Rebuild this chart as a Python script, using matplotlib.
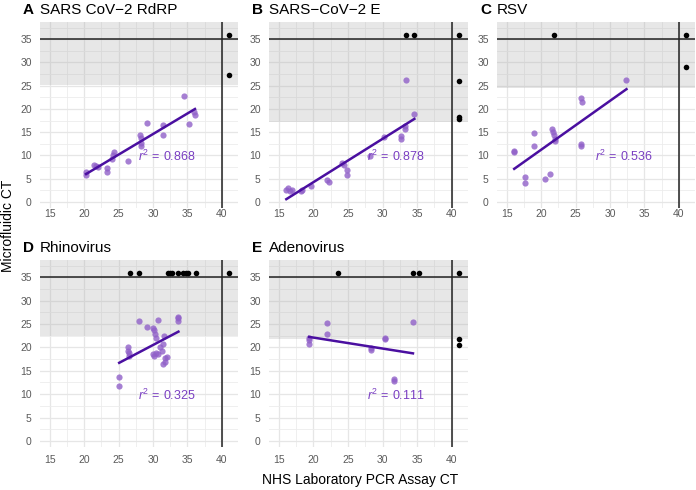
import numpy as np
import matplotlib
matplotlib.use('Agg')
import matplotlib.pyplot as plt

plt.rcParams['font.family'] = ['Liberation Sans', 'DejaVu Sans']
plt.rcParams['mathtext.fontset'] = 'custom'
plt.rcParams['mathtext.rm'] = 'Liberation Sans'
plt.rcParams['mathtext.it'] = 'Liberation Sans:italic'

# panel A - SARS CoV-2 RdRP
a_x = [20.3, 20.3, 21.4, 21.7, 22.0, 23.3, 23.3, 24.0, 24.2, 24.4, 26.4,
       28.1, 28.2, 28.3, 28.3, 29.1, 31.4, 31.4, 34.5, 35.2, 35.9, 36.1]
a_y = [6.5, 5.8, 7.9, 7.7, 7.5, 7.2, 6.5, 9.3, 10.0, 10.8, 8.8,
       14.4, 13.8, 12.6, 12.0, 16.9, 16.5, 14.4, 22.7, 16.7, 19.4, 18.7]
a_nd_x = [41, 41]
a_nd_y = [36, 27.2]

# panel B - SARS-CoV-2 E
b_x = [16.1, 16.4, 16.6, 16.9, 18.2, 18.4, 19.6, 22.0, 22.2, 24.2, 24.4, 24.9,
       24.9, 28.2, 30.2, 32.6, 32.7, 33.2, 33.3, 33.4, 34.6]
b_y = [2.5, 2.9, 2.4, 2.6, 2.4, 2.5, 3.4, 4.8, 4.3, 8.3, 7.9, 6.8,
       5.8, 9.8, 13.9, 13.6, 14.1, 15.6, 16.3, 26.2, 19.0]
b_nd_x = [33.4, 34.6, 41, 41, 41, 41]
b_nd_y = [36, 36, 36, 26, 18.3, 17.9]

# panel C - RSV
c_x = [16.1, 16.1, 17.6, 17.6, 18.9, 18.9, 20.5, 21.3, 21.6, 21.7, 21.9, 22.0,
       22.0, 25.8, 25.9, 25.8, 25.8, 32.4]
c_y = [10.7, 10.9, 5.4, 4.1, 14.9, 12.0, 5.0, 6.1, 15.6, 15.1, 14.4, 13.6,
       13.1, 22.4, 21.5, 12.1, 12.4, 26.2]
c_nd_x = [21.9, 41, 41]
c_nd_y = [36, 36, 29]

# panel D - Rhinovirus
d_x = [25.1, 25.1, 26.4, 26.4, 26.5, 26.5, 28.0, 29.2, 30.0, 30.1, 30.3, 30.4,
       30.7, 30.0, 30.2, 30.5, 30.7, 31.0, 31.3, 31.5, 31.6, 31.8, 31.7, 31.5,
       32.0, 33.7, 33.7, 33.7]
d_y = [13.6, 11.8, 20.0, 19.2, 18.7, 18.1, 25.7, 24.4, 24.2, 23.7, 22.8, 22.1,
       25.8, 18.5, 18.1, 18.9, 18.5, 20.0, 19.2, 20.7, 22.4, 17.8, 16.9, 16.4,
       18.0, 26.5, 25.7, 26.2]
d_nd_x = [26.6, 28.0, 32.2, 32.5, 32.7, 33.7, 34.3, 34.8, 35.1, 36.2, 41]
d_nd_y = [36, 36, 36, 36, 36, 36, 36, 36, 36, 36, 36]

# panel E - Adenovirus
e_x = [19.4, 19.4, 19.4, 22.0, 22.0, 28.3, 28.4, 30.3, 30.4, 31.6, 31.6, 34.4]
e_y = [22.1, 21.5, 20.8, 25.2, 22.8, 19.8, 19.5, 22.1, 21.7, 13.3, 12.9, 25.5]
e_nd_x = [23.6, 34.4, 35.3, 41, 41, 41]
e_nd_y = [36, 36, 36, 36, 21.7, 20.6]

letters = ['A', 'B', 'C', 'D', 'E']
titles = ['SARS CoV\u22122 RdRP', 'SARS\u2212CoV\u22122 E', 'RSV', 'Rhinovirus', 'Adenovirus']
r2_labels = ['0.868', '0.878', '0.536', '0.325', '0.111']
thresholds = [25.2, 17.3, 24.6, 22.5, 21.9]

panels = [(a_x, a_y, a_nd_x, a_nd_y), (b_x, b_y, b_nd_x, b_nd_y),
          (c_x, c_y, c_nd_x, c_nd_y), (d_x, d_y, d_nd_x, d_nd_y),
          (e_x, e_y, e_nd_x, e_nd_y)]

W, H = 696, 490
fig = plt.figure(figsize=(W / 100, H / 100), dpi=100)

# pixel boxes: left, top, width, height
boxes = [(40, 22, 198, 186), (269, 22, 199, 186), (497, 22, 198, 186),
         (40, 260, 198, 187), (269, 260, 199, 187)]

for i, (px, py, nx, ny) in enumerate(panels):
    l, t, w, h = boxes[i]
    ax = fig.add_axes([l / W, 1 - (t + h) / H, w / W, h / H])
    ax.set_xlim(13.6, 42.35)
    ax.set_ylim(-1.3, 38.7)
    ax.set_xticks([15, 20, 25, 30, 35, 40])
    ax.set_yticks([0, 5, 10, 15, 20, 25, 30, 35])
    ax.set_xticks([17.5, 22.5, 27.5, 32.5, 37.5], minor=True)
    ax.set_yticks([2.5, 7.5, 12.5, 17.5, 22.5, 27.5, 32.5, 37.5], minor=True)
    ax.grid(which='major', color='#e6e6e6', lw=0.9, zorder=0)
    ax.grid(which='minor', color='#ececec', lw=0.6, zorder=0)
    ax.set_axisbelow(True)
    for s in ax.spines.values():
        s.set_visible(False)
    ax.tick_params(which='both', length=0, labelsize=7.5, labelcolor='#5a5a5a')
    ax.tick_params(axis='x', pad=0.5 if i < 3 else 6)
    ax.tick_params(axis='y', pad=6)

    ax.axhspan(thresholds[i], 38.7, color='#b0b0b0', alpha=0.3, lw=0, zorder=1)
    ax.axhline(35, color='#222222', lw=1.1, zorder=2)
    ax.axvline(40, color='#222222', lw=1.1, zorder=2)

    ax.scatter(px, py, s=20, color='#9060c8', alpha=0.8, lw=0, zorder=3)
    ax.scatter(nx, ny, s=16, color='black', lw=0, zorder=3)

    xs = np.array(px)
    k, b0 = np.polyfit(xs, np.array(py), 1)
    xl = np.array([xs.min(), xs.max()])
    ax.plot(xl, k * xl + b0, color='#4a0fa0', lw=1.8, zorder=4)

    ax.text(32, 9.8, r'$\it{r}^{2}\,=\,0.%s$' % r2_labels[i][2:],
            color='#7a3fc2', fontsize=9, ha='center', va='center', zorder=5)

    base = t - 8 if i < 3 else t - 8.5
    fig.text((l - 17) / W, 1 - base / H, letters[i], fontsize=11,
             fontweight='bold', va='baseline', ha='left')
    fig.text(l / W, 1 - base / H, titles[i], fontsize=11, va='baseline', ha='left')

fig.text(8 / W, 1 - 226 / H, 'Microfluidic CT', rotation=90, fontsize=10,
         ha='center', va='center')
fig.text(360 / W, 1 - 480 / H, 'NHS Laboratory PCR Assay CT', fontsize=10,
         ha='center', va='center')

fig.savefig('out.png', dpi=100)
